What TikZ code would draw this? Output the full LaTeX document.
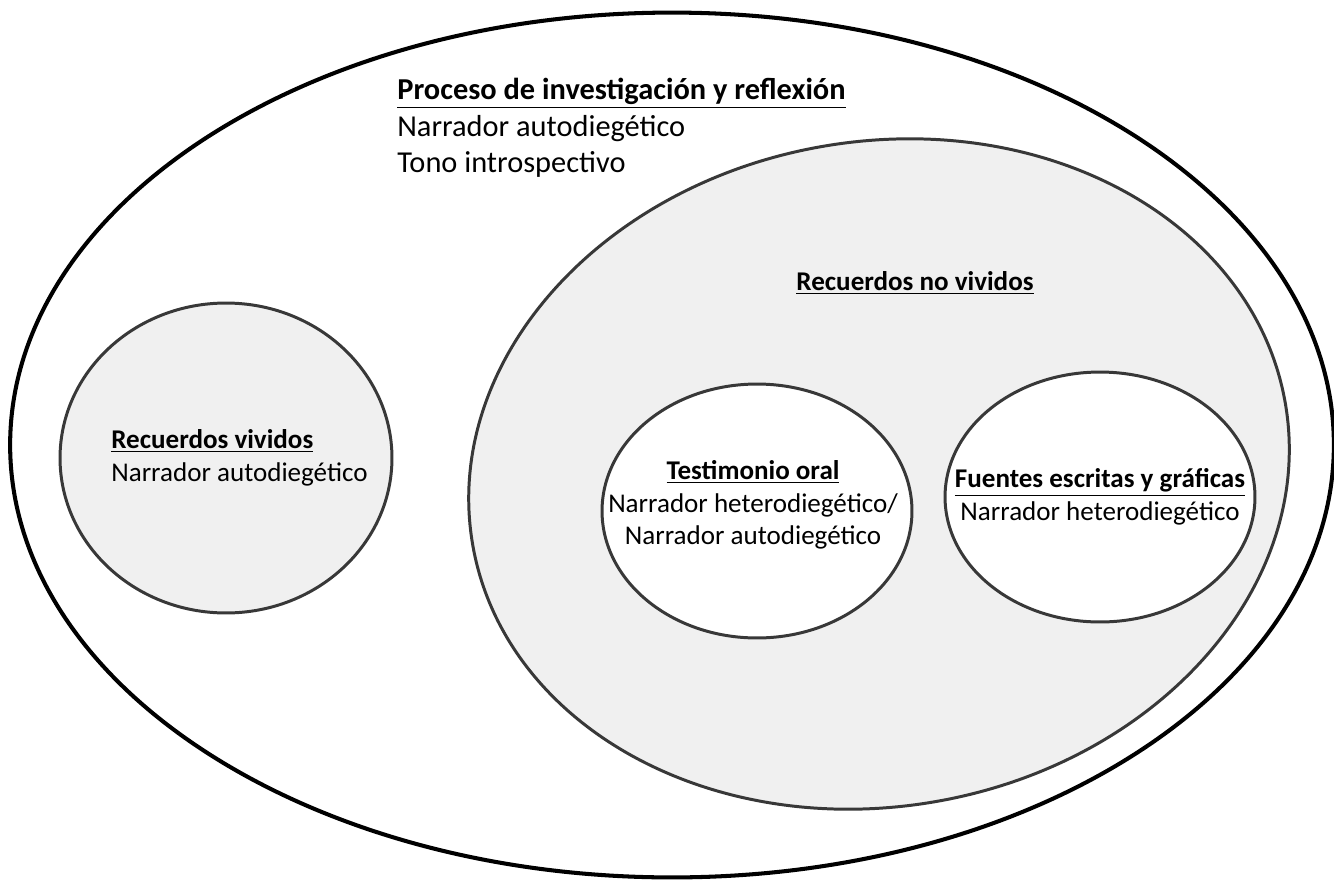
\documentclass[tikz,border=0pt]{standalone}
\usepackage{fontspec}
\setmainfont{Carlito}
\usetikzlibrary{shapes.geometric}

\begin{document}
\begin{tikzpicture}[x=0.02cm,y=-0.02cm]
\tikzset{set/.style={ellipse,draw=black!78,line width=1.7pt,inner sep=0pt}}
\tikzset{grey set/.style={set,fill=black!6}}
\tikzset{white set/.style={set,fill=white}}
\tikzset{big label/.style={align=left,font=\fontsize{17.3}{20.7}\selectfont,inner sep=0pt}}
\tikzset{small label/.style={font=\fontsize{15.4}{18.5}\selectfont,inner sep=0pt}}

\useasboundingbox (0,0) rectangle (1334,879);

% outer set
\node[set,draw=black,line width=2.3pt,minimum width=26.48cm,minimum height=17.3cm](outer) at (672,445){};
\node[big label,anchor=west](outertext) at (397,128){\textbf{\underline{Proceso de investigación y reflexión}}\\Narrador autodiegético\\Tono introspectivo};

% lived memories
\node[grey set,minimum width=6.64cm,minimum height=6.2cm](lived) at (226,458){};
\node[small label,align=left,anchor=west](livedtext) at (111,458){\textbf{\underline{Recuerdos vividos}}\\Narrador autodiegético};

% memories not lived
\node[grey set,rotate=10,minimum width=16.5cm,minimum height=13.3cm](notlived) at (879,474){};
\node[small label](notlivedtext) at (915,283){\textbf{\underline{Recuerdos no vividos}}};

\node[white set,minimum width=6.2cm,minimum height=5.08cm](oral) at (757,511){};
\node[small label,align=center](oraltext) at (753,505){\textbf{\underline{Testimonio oral}}\\Narrador heterodiegético/\\Narrador autodiegético};

\node[white set,minimum width=6.2cm,minimum height=5.0cm](written) at (1100,497){};
\node[small label,align=center](writtentext) at (1100,497){\textbf{\underline{Fuentes escritas y gráficas}}\\Narrador heterodiegético};

\end{tikzpicture}
\end{document}
